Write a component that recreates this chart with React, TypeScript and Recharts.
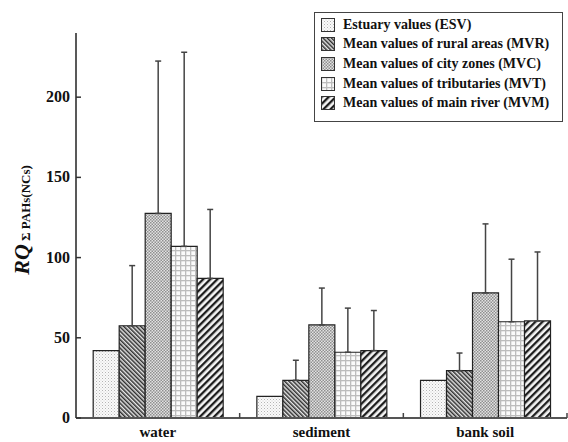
import { BarChart, Bar, XAxis, YAxis, ErrorBar } from "recharts";

const categories = ["water", "sediment", "bank soil"];

const esv = [42, 13.5, 23.5];
const mvr = [57.5, 23.5, 29.5];
const mvc = [127.5, 58, 78];
const mvt = [107, 41, 60];
const mvm = [87, 42, 60.5];

// upper error only (mean + sd drawn above bar)
const mvrErr = [37.5, 12.5, 11];
const mvcErr = [95, 23, 43];
const mvtErr = [121, 27.5, 39];
const mvmErr = [43, 25, 43];

const yTicks = [0, 50, 100, 150, 200];

const series = [
  { key: "esv", err: null, name: "Estuary values (ESV)", fill: "url(#pat-esv)" },
  { key: "mvr", err: "mvrErr", name: "Mean values of rural areas (MVR)", fill: "url(#pat-mvr)" },
  { key: "mvc", err: "mvcErr", name: "Mean values of city zones (MVC)", fill: "url(#pat-mvc)" },
  { key: "mvt", err: "mvtErr", name: "Mean values of tributaries (MVT)", fill: "url(#pat-mvt)" },
  { key: "mvm", err: "mvmErr", name: "Mean values of main river (MVM)", fill: "url(#pat-mvm)" },
];

const data = categories.map((c, i) => ({
  name: c,
  esv: esv[i],
  mvr: mvr[i],
  mvc: mvc[i],
  mvt: mvt[i],
  mvm: mvm[i],
  mvrErr: [0, mvrErr[i]],
  mvcErr: [0, mvcErr[i]],
  mvtErr: [0, mvtErr[i]],
  mvmErr: [0, mvmErr[i]],
}));

const FONT = "'Liberation Serif', 'Times New Roman', serif";

function XTick(props: any) {
  const { x, y, payload } = props;
  const half = payload && payload.offset ? payload.offset : 81.8;
  return (
    <g>
      <line x1={x + half} x2={x + half} y1={y} y2={y - 5} stroke="#444" strokeWidth={1.5} />
      <text x={x} y={y + 19} textAnchor="middle" fontFamily={FONT} fontWeight="bold" fontSize={15} fill="#111">
        {payload.value}
      </text>
    </g>
  );
}

function YTick(props: any) {
  const { x, y, payload } = props;
  return (
    <g>
      <line x1={x} x2={x + 5} y1={y} y2={y} stroke="#333" strokeWidth={1.5} />
      <text x={x - 6} y={y + 5} textAnchor="end" fontFamily={FONT} fontWeight="bold" fontSize={16} fill="#111">
        {payload.value}
      </text>
    </g>
  );
}

function YLabel() {
  const cx = 29;
  const cy = 220;
  return (
    <text
      x={cx}
      y={cy}
      transform={`rotate(-90 ${cx} ${cy})`}
      textAnchor="middle"
      fontFamily={FONT}
      fontWeight="bold"
      fill="#111"
    >
      <tspan fontSize={22} fontStyle="italic">RQ</tspan>
      <tspan fontSize={13} dy={1}>{" Σ PAHs(NCs)"}</tspan>
    </text>
  );
}

export default function App() {
  return (
    <div style={{ position: "absolute", left: 0, top: 0, width: 568, height: 442, background: "#fff" }}>
      <BarChart
        width={568}
        height={442}
        data={data}
        margin={{ top: 33, right: 1, left: 0, bottom: 0 }}
        barCategoryGap="10.5%"
        barGap={0}
      >
        <defs>
          <pattern id="pat-esv" width="3" height="3" patternUnits="userSpaceOnUse">
            <rect width="3" height="3" fill="#fafafa" />
            <rect x="0" y="0" width="1" height="1" fill="#b5b5b5" />
            <rect x="1.5" y="1.5" width="1" height="1" fill="#cfcfcf" />
          </pattern>
          <pattern id="pat-mvr" width="3" height="3" patternUnits="userSpaceOnUse" patternTransform="rotate(-45)">
            <rect width="3" height="3" fill="#e6e6e6" />
            <rect width="1.5" height="3" fill="#2e2e2e" />
          </pattern>
          <pattern id="pat-mvc" width="3" height="3" patternUnits="userSpaceOnUse">
            <rect width="3" height="3" fill="#e2e2e2" />
            <rect x="0" y="0" width="1.5" height="1.5" fill="#8f8f8f" />
            <rect x="1.5" y="1.5" width="1.5" height="1.5" fill="#8f8f8f" />
          </pattern>
          <pattern id="pat-mvt" width="5" height="5" patternUnits="userSpaceOnUse">
            <rect width="5" height="5" fill="#fbfbfb" />
            <rect x="0" y="0" width="5" height="1.3" fill="#bdbdbd" />
            <rect x="0" y="0" width="1.3" height="5" fill="#bdbdbd" />
          </pattern>
          <pattern id="pat-mvm" width="5" height="5" patternUnits="userSpaceOnUse" patternTransform="rotate(45)">
            <rect width="5" height="5" fill="#f4f4f4" />
            <rect width="2.3" height="5" fill="#1e1e1e" />
          </pattern>
        </defs>
        <XAxis
          dataKey="name"
          height={24}
          tickSize={0}
          tickMargin={0}
          tickLine={false}
          tick={<XTick />}
          axisLine={{ stroke: "#555", strokeWidth: 2 }}
          interval={0}
        />
        <YAxis
          width={76}
          domain={[0, 240]}
          ticks={yTicks}
          tickSize={0}
          tickMargin={0}
          tickLine={false}
          tick={<YTick />}
          axisLine={{ stroke: "#222", strokeWidth: 1.5 }}
          label={<YLabel />}
        />
        {series.map((s) => (
          <Bar
            key={s.key}
            dataKey={s.key}
            name={s.name}
            fill={s.fill}
            stroke="#222"
            strokeWidth={1.2}
            isAnimationActive={false}
          >
            {s.err && (
              <ErrorBar dataKey={s.err} width={3} stroke="#444" strokeWidth={1.5} direction="y" />
            )}
          </Bar>
        ))}
      </BarChart>
      <div
        style={{
          position: "absolute",
          left: 314,
          top: 12,
          width: 249,
          height: 110,
          boxSizing: "border-box",
          border: "1.5px solid #444",
          background: "#fff",
          fontFamily: FONT,
          fontWeight: "bold",
          fontSize: 14,
          color: "#111",
          paddingTop: 2,
        }}
      >
        {series.map((s) => (
          <div key={s.key} style={{ display: "flex", alignItems: "center", height: 19.6 }}>
            <svg width={14} height={14} style={{ marginLeft: 6, marginRight: 8, flex: "none" }}>
              <rect x={0.5} y={0.5} width={13} height={13} fill={s.fill} stroke="#333" strokeWidth={1} />
            </svg>
            <span style={{ whiteSpace: "nowrap" }}>{s.name}</span>
          </div>
        ))}
      </div>
    </div>
  );
}
